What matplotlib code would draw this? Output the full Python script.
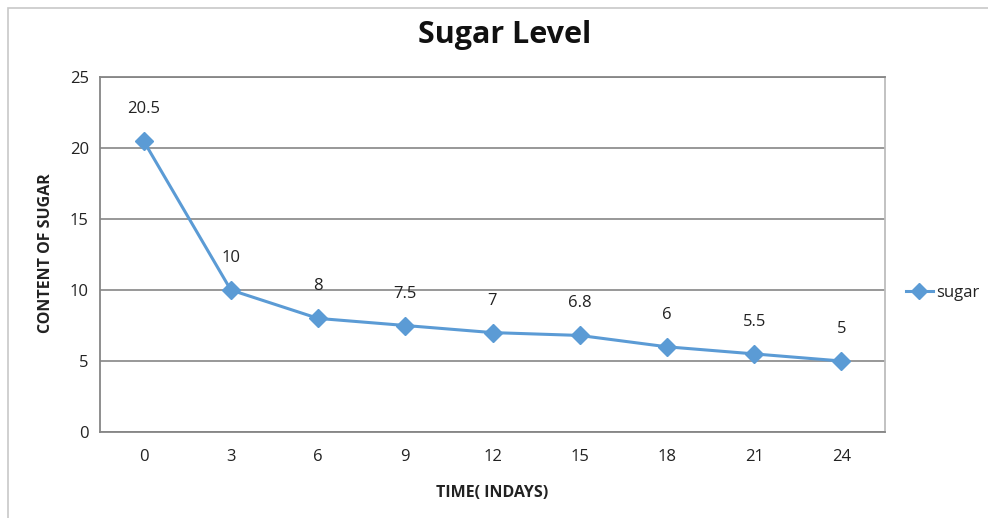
import matplotlib.pyplot as plt
from matplotlib.patches import Rectangle

days = ["0", "3", "6", "9", "12", "15", "18", "21", "24"]
sugar = [20.5, 10, 8, 7.5, 7, 6.8, 6, 5.5, 5]
labels = ["20.5", "10", "8", "7.5", "7", "6.8", "6", "5.5", "5"]
yticks = [0, 5, 10, 15, 20, 25]

LINE = "#5b9bd5"
GRID = "#868686"
TEXT = "#222222"
W, H = 988, 518


def main() -> None:
    plt.rcParams["font.family"] = ["Open Sans", "DejaVu Sans"]
    fig = plt.figure(figsize=(W / 100, H / 100), dpi=100)

    # outer chart border (runs off the right and bottom edges)
    fig.patches.append(Rectangle((8 / W, -0.1), 1.2, (510 / H) + 0.1,
                                 transform=fig.transFigure, fill=False,
                                 edgecolor="#c8c8c8", linewidth=1.2))

    ax = fig.add_axes([100 / W, 86 / H, 785 / W, 355 / H])
    x = list(range(len(days)))
    line, = ax.plot(x, sugar, color=LINE, linewidth=2.2, marker="D",
                    markersize=9, label="sugar", zorder=3)
    for xi, yi, lab in zip(x, sugar, labels):
        ax.annotate(lab, (xi, yi), xytext=(0, 23), textcoords="offset points",
                    ha="center", va="center", fontsize=12, color=TEXT)

    ax.set_xlim(-0.5, len(days) - 0.5)
    ax.set_ylim(0, 25)
    ax.set_xticks(x)
    ax.set_xticklabels(days)
    ax.set_yticks(yticks)
    ax.tick_params(length=0, labelsize=12, colors=TEXT)
    ax.tick_params(axis="x", pad=12)
    ax.tick_params(axis="y", pad=8)
    ax.yaxis.grid(True, color=GRID, linewidth=1.2)
    ax.set_axisbelow(True)
    for side in ["left", "bottom", "top"]:
        ax.spines[side].set_color(GRID)
        ax.spines[side].set_linewidth(1.3)
    ax.spines["right"].set_color("#bdbdbd")
    ax.spines["right"].set_linewidth(1.3)

    fig.text(492 / W, 1 - 493 / H, "TIME( INDAYS)", fontsize=11.5,
             fontweight="bold", ha="center", va="center", color=TEXT)
    fig.text(46 / W, 1 - 253 / H, "CONTENT OF SUGAR", fontsize=11.5,
             fontweight="bold", ha="center", va="center", rotation=90,
             color=TEXT)
    fig.text(505 / W, 1 - 35 / H, "Sugar Level", fontsize=22,
             fontweight="bold", ha="center", va="center", color="#111111")

    fig.legend(handles=[line], loc="center left",
               bbox_to_anchor=(891 / W, 1 - 293 / H), frameon=False,
               fontsize=12, handlelength=1.6, handletextpad=0.2,
               markerscale=0.9, labelcolor=TEXT)

    fig.savefig("out.png", dpi=100, facecolor="white")


if __name__ == "__main__":
    main()
